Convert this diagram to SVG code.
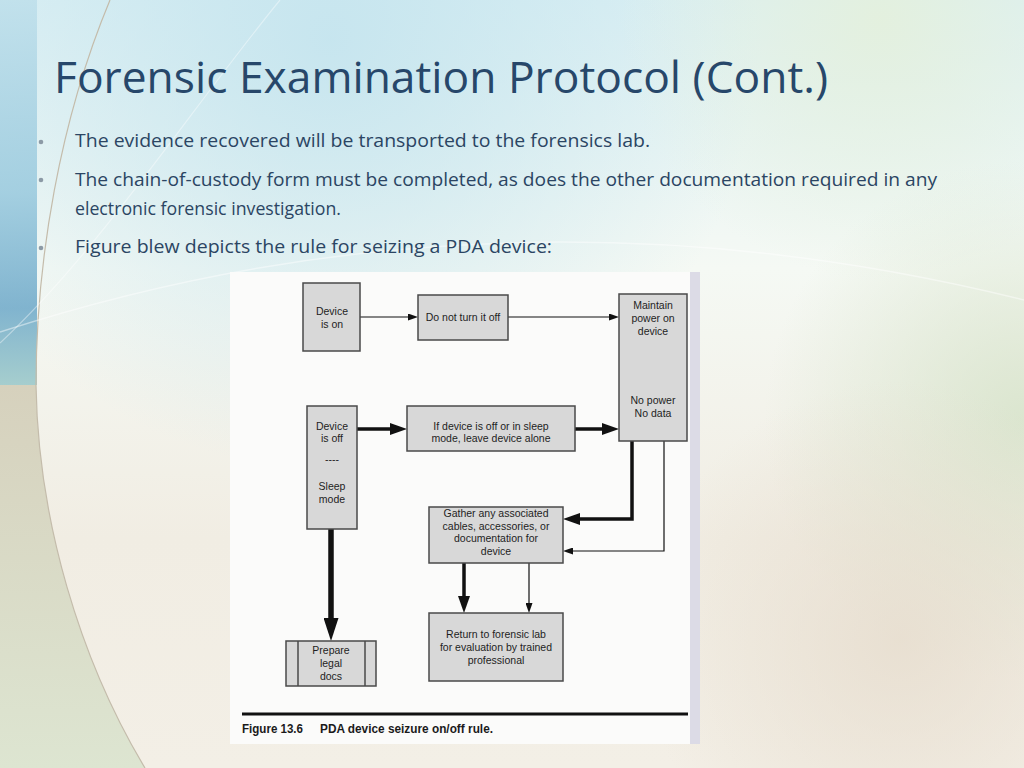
<svg xmlns="http://www.w3.org/2000/svg" width="1024" height="768" viewBox="0 0 1024 768">
<defs>
  <linearGradient id="bgV" x1="0" y1="0" x2="0" y2="1">
    <stop offset="0" stop-color="#dcf0f4"/>
    <stop offset="0.35" stop-color="#f5f9f4"/>
    <stop offset="0.7" stop-color="#f1ede3"/>
    <stop offset="1" stop-color="#f3efe6"/>
  </linearGradient>
  <radialGradient id="bgTL" cx="330" cy="40" r="430" gradientUnits="userSpaceOnUse">
    <stop offset="0" stop-color="#c4e4ee" stop-opacity="0.9"/>
    <stop offset="1" stop-color="#c4e4ee" stop-opacity="0"/>
  </radialGradient>
  <radialGradient id="bgTR" cx="880" cy="20" r="260" gradientUnits="userSpaceOnUse">
    <stop offset="0" stop-color="#e4f0dc" stop-opacity="0.9"/>
    <stop offset="1" stop-color="#e4f0dc" stop-opacity="0"/>
  </radialGradient>
  <radialGradient id="bgR" cx="1024" cy="420" r="260" gradientUnits="userSpaceOnUse">
    <stop offset="0" stop-color="#d8e4cc" stop-opacity="0.9"/>
    <stop offset="1" stop-color="#d8e4cc" stop-opacity="0"/>
  </radialGradient>
  <radialGradient id="bgBR" cx="900" cy="640" r="260" gradientUnits="userSpaceOnUse">
    <stop offset="0" stop-color="#e6dccd" stop-opacity="0.8"/>
    <stop offset="1" stop-color="#e6dccd" stop-opacity="0"/>
  </radialGradient>
  <linearGradient id="stripTop" x1="0" y1="0" x2="0" y2="1">
    <stop offset="0" stop-color="#bcdeea"/>
    <stop offset="0.5" stop-color="#93c6dc"/>
    <stop offset="0.8" stop-color="#64a3c6"/>
    <stop offset="1" stop-color="#92c4c6"/>
  </linearGradient>
  <linearGradient id="stripBot" x1="0" y1="0" x2="0" y2="1">
    <stop offset="0" stop-color="#d6d1bd"/>
    <stop offset="1" stop-color="#dde5d1"/>
  </linearGradient>
  <marker id="aThin" markerUnits="userSpaceOnUse" markerWidth="10" markerHeight="7" refX="2" refY="3.5" orient="auto">
    <path d="M0,0 L10,3.5 L0,7 Z" fill="#111"/>
  </marker>
  <marker id="aThick" markerUnits="userSpaceOnUse" markerWidth="17" markerHeight="12" refX="3" refY="6" orient="auto">
    <path d="M0,0 L17,6 L0,12 Z" fill="#111"/>
  </marker>
  <marker id="aHeavy" markerUnits="userSpaceOnUse" markerWidth="23" markerHeight="15" refX="3" refY="7.5" orient="auto">
    <path d="M0,0 L23,7.5 L0,15 Z" fill="#111"/>
  </marker>
  <style>
    .title{font-family:"Open Sans","Liberation Sans",sans-serif;font-size:44px;fill:#27476a}
    .body{font-family:"Open Sans","Liberation Sans",sans-serif;font-size:19px;fill:#2b4563}
    .dot{fill:#8c9aa6}
    .box{fill:#d8d8d8;stroke:#4a4a4a;stroke-width:1.5}
    .lbl{font-family:"Liberation Sans",Arial,sans-serif;font-size:10.5px;fill:#1e1e1e;text-anchor:middle}
    .thin{fill:none;stroke:#111;stroke-width:1.2}
    .thick{fill:none;stroke:#111;stroke-width:3.5}
    .heavy{fill:none;stroke:#111;stroke-width:5.5}
    .cap{font-family:"Liberation Sans",Arial,sans-serif;font-size:12.5px;font-weight:bold;fill:#1a1a1a}
  </style>
</defs>

<!-- slide background -->
<rect x="0" y="0" width="1024" height="768" fill="url(#bgV)"/>
<rect x="0" y="0" width="1024" height="768" fill="url(#bgTL)"/>
<rect x="0" y="0" width="1024" height="768" fill="url(#bgTR)"/>
<rect x="0" y="0" width="1024" height="768" fill="url(#bgR)"/>
<rect x="0" y="0" width="1024" height="768" fill="url(#bgBR)"/>
<rect x="0" y="0" width="37" height="385" fill="url(#stripTop)" opacity="0.8"/>
<path d="M0,385 L36,385 C38,520 80,660 145,768 L0,768 Z" fill="url(#stripBot)"/>
<path d="M110,0 C60,120 36,260 36,385 C38,520 80,660 145,768" fill="none" stroke="#c4bcab" stroke-width="1.2"/>
<path d="M280,0 C190,110 100,250 0,343" fill="none" stroke="#ffffff" stroke-opacity="0.4" stroke-width="1.2"/>
<path d="M0,332 Q500,170 1024,300" fill="none" stroke="#ffffff" stroke-opacity="0.45" stroke-width="1.5"/>

<!-- slide text -->
<text class="title" x="54" y="93" textLength="774" lengthAdjust="spacingAndGlyphs">Forensic Examination Protocol (Cont.)</text>
<circle class="dot" cx="41" cy="142" r="2.3"/>
<circle class="dot" cx="41" cy="180" r="2.3"/>
<circle class="dot" cx="41" cy="248" r="2.3"/>
<text class="body" x="75" y="147" textLength="575" lengthAdjust="spacingAndGlyphs">The evidence recovered will be transported to the forensics lab.</text>
<text class="body" x="75" y="186" textLength="862" lengthAdjust="spacingAndGlyphs">The chain-of-custody form must be completed, as does the other documentation required in any</text>
<text class="body" x="75" y="215" textLength="266" lengthAdjust="spacingAndGlyphs">electronic forensic investigation.</text>
<text class="body" x="75" y="253" textLength="477" lengthAdjust="spacingAndGlyphs">Figure blew depicts the rule for seizing a PDA device:</text>

<!-- figure page -->
<rect x="230" y="272" width="470" height="472" fill="#fbfbfa"/>
<rect x="690" y="272" width="10" height="472" fill="#dcdbe6"/>

<g id="connectors">
  <path class="thin" d="M360,317 L410,317" marker-end="url(#aThin)"/>
  <path class="thin" d="M508,317 L611,317" marker-end="url(#aThin)"/>
  <path class="thick" d="M357,429 L393,429" marker-end="url(#aThick)"/>
  <path class="thick" d="M575,429 L605,429" marker-end="url(#aThick)"/>
  <path class="thick" d="M632,441 L632,519 L577,519" marker-end="url(#aThick)"/>
  <path class="thin" d="M664,441 L664,551 L571,551" marker-end="url(#aThin)"/>
  <path class="thick" d="M464,563 L464,599" marker-end="url(#aThick)"/>
  <path class="thin" d="M529,563 L529,605" marker-end="url(#aThin)"/>
  <path class="heavy" d="M331,529 L331,621" marker-end="url(#aHeavy)"/>
</g>

<g id="node-device-on">
  <rect class="box" x="303" y="283" width="57" height="68"/>
  <text class="lbl" x="332" y="315">Device</text>
  <text class="lbl" x="332" y="327.5">is on</text>
</g>
<g id="node-do-not-turn-off">
  <rect class="box" x="418" y="295" width="90" height="45"/>
  <text class="lbl" x="463" y="321">Do not turn it off</text>
</g>
<g id="node-maintain-power">
  <rect class="box" x="619" y="294" width="68" height="147"/>
  <text class="lbl" x="653" y="308.5">Maintain</text>
  <text class="lbl" x="653" y="322">power on</text>
  <text class="lbl" x="653" y="335">device</text>
  <text class="lbl" x="653" y="403.5">No power</text>
  <text class="lbl" x="653" y="417">No data</text>
</g>
<g id="node-device-off">
  <rect class="box" x="307" y="406" width="50" height="123"/>
  <text class="lbl" x="332" y="429.5">Device</text>
  <text class="lbl" x="332" y="442">is off</text>
  <text class="lbl" x="332" y="463">----</text>
  <text class="lbl" x="332" y="490">Sleep</text>
  <text class="lbl" x="332" y="503">mode</text>
</g>
<g id="node-leave-alone">
  <rect class="box" x="407" y="406" width="168" height="45"/>
  <text class="lbl" x="491" y="429.5">If device is off or in sleep</text>
  <text class="lbl" x="491" y="442">mode, leave device alone</text>
</g>
<g id="node-gather">
  <rect class="box" x="429" y="507" width="134" height="56"/>
  <text class="lbl" x="496" y="517">Gather any associated</text>
  <text class="lbl" x="496" y="529.5">cables, accessories, or</text>
  <text class="lbl" x="496" y="542">documentation for</text>
  <text class="lbl" x="496" y="555">device</text>
</g>
<g id="node-return">
  <rect class="box" x="429" y="613" width="134" height="68"/>
  <text class="lbl" x="496" y="638">Return to forensic lab</text>
  <text class="lbl" x="496" y="650.5">for evaluation by trained</text>
  <text class="lbl" x="496" y="663.5">professional</text>
</g>
<g id="node-prepare">
  <rect class="box" x="286" y="641" width="90" height="45"/>
  <line x1="298" y1="641" x2="298" y2="686" stroke="#4a4a4a" stroke-width="1.5"/>
  <line x1="365" y1="641" x2="365" y2="686" stroke="#4a4a4a" stroke-width="1.5"/>
  <text class="lbl" x="331" y="654">Prepare</text>
  <text class="lbl" x="331" y="667">legal</text>
  <text class="lbl" x="331" y="680">docs</text>
</g>

<!-- caption -->
<rect x="242" y="712.5" width="446" height="3" fill="#111"/>
<text class="cap" x="242" y="733" textLength="61" lengthAdjust="spacingAndGlyphs">Figure 13.6</text>
<text class="cap" x="320" y="733" textLength="173" lengthAdjust="spacingAndGlyphs">PDA device seizure on/off rule.</text>
</svg>
